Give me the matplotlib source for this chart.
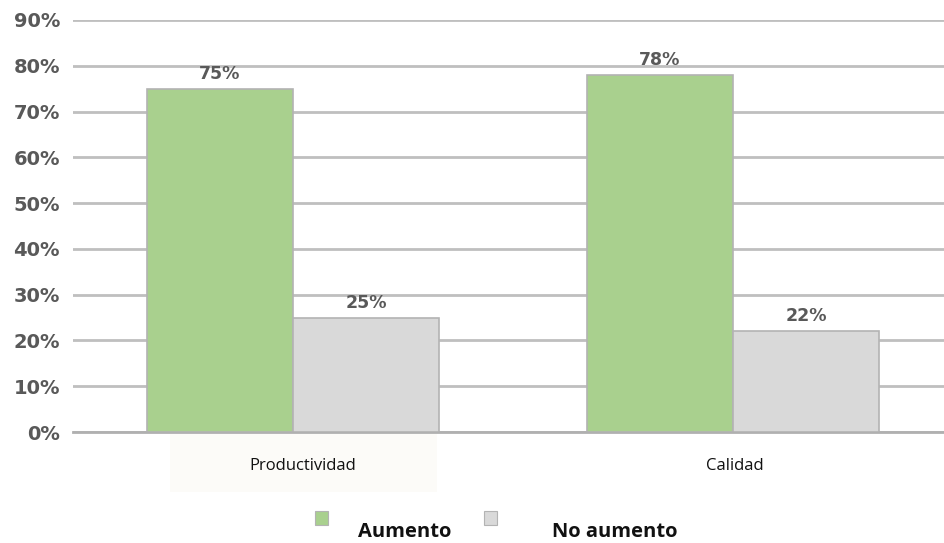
import matplotlib
matplotlib.use("Agg")
import matplotlib.pyplot as plt
from matplotlib.patches import Rectangle

categories = ["Productividad", "Calidad"]
aumento = [75, 78]
no_aumento = [25, 22]
series_names = ["Aumento", "No aumento"]
yticks = [0, 10, 20, 30, 40, 50, 60, 70, 80, 90]

GREEN = "#a9d08e"
GRAY = "#d9d9d9"
EDGE = "#b3b3b3"
GRID = "#bfbfbf"
TXT = "#595959"

W, H = 945, 543
fig = plt.figure(figsize=(W / 100, H / 100), dpi=100)
ax = fig.add_axes([73 / W, 1 - 432 / H, 1 - 73 / W, (432 - 20) / H])

bw = 0.332
x = range(len(categories))
b1 = ax.bar([i - bw / 2 for i in x], aumento, bw, color=GREEN, edgecolor=EDGE,
            linewidth=1.2, zorder=3)
b2 = ax.bar([i + bw / 2 for i in x], no_aumento, bw, color=GRAY, edgecolor=EDGE,
            linewidth=1.2, zorder=3)

for bars, vals in ((b1, aumento), (b2, no_aumento)):
    for r, v in zip(bars, vals):
        ax.text(r.get_x() + r.get_width() / 2, v + 1.3, f"{v}%", ha="center",
                va="bottom", fontsize=12.5, fontweight="bold", color=TXT,
                family="DejaVu Sans", zorder=4)

ax.set_xlim(-0.5, 1.4818)
ax.set_ylim(0, 90)
ax.set_yticks(yticks)
ax.set_yticklabels([f"{t}%" for t in yticks])
ax.set_xticks([])
for lab in ax.get_yticklabels():
    lab.set_fontsize(14)
    lab.set_fontweight("bold")
    lab.set_color(TXT)
    lab.set_family("DejaVu Sans")
ax.tick_params(axis="y", length=0, pad=9.4)
ax.yaxis.grid(True, color=GRID, linewidth=2, zorder=0)
ax.axhline(0, color="#b0b0b0", linewidth=2, zorder=2, clip_on=False)
for s in ax.spines.values():
    s.set_visible(False)
ax.set_facecolor("white")

# faint label box under first category
fig.patches.append(Rectangle((170 / W, 1 - 492 / H), (437 - 170) / W, 58 / H,
                             transform=fig.transFigure, facecolor="#fcfbf8",
                             edgecolor="none", zorder=5))

# category labels
fig.text(303 / W, 1 - 466 / H, categories[0], ha="center", va="center",
         fontsize=12, family="Open Sans", color="#111111", zorder=6)
fig.text(735 / W, 1 - 466 / H, categories[1], ha="center", va="center",
         fontsize=12, family="Open Sans", color="#111111", zorder=6)

# legend
for (sx, col), name, tx in zip(((315, GREEN), (484, GRAY)), series_names, (405, 615)):
    fig.patches.append(Rectangle((sx / W, 1 - 525 / H), 13 / W, 14 / H,
                                 transform=fig.transFigure, facecolor=col,
                                 edgecolor=EDGE, linewidth=0.8))
    fig.text(tx / W, 1 - 532 / H, name, ha="center", va="center", fontsize=14.5,
             fontweight="bold", family="Open Sans", color="#111111")

fig.savefig("out.png", dpi=100)
